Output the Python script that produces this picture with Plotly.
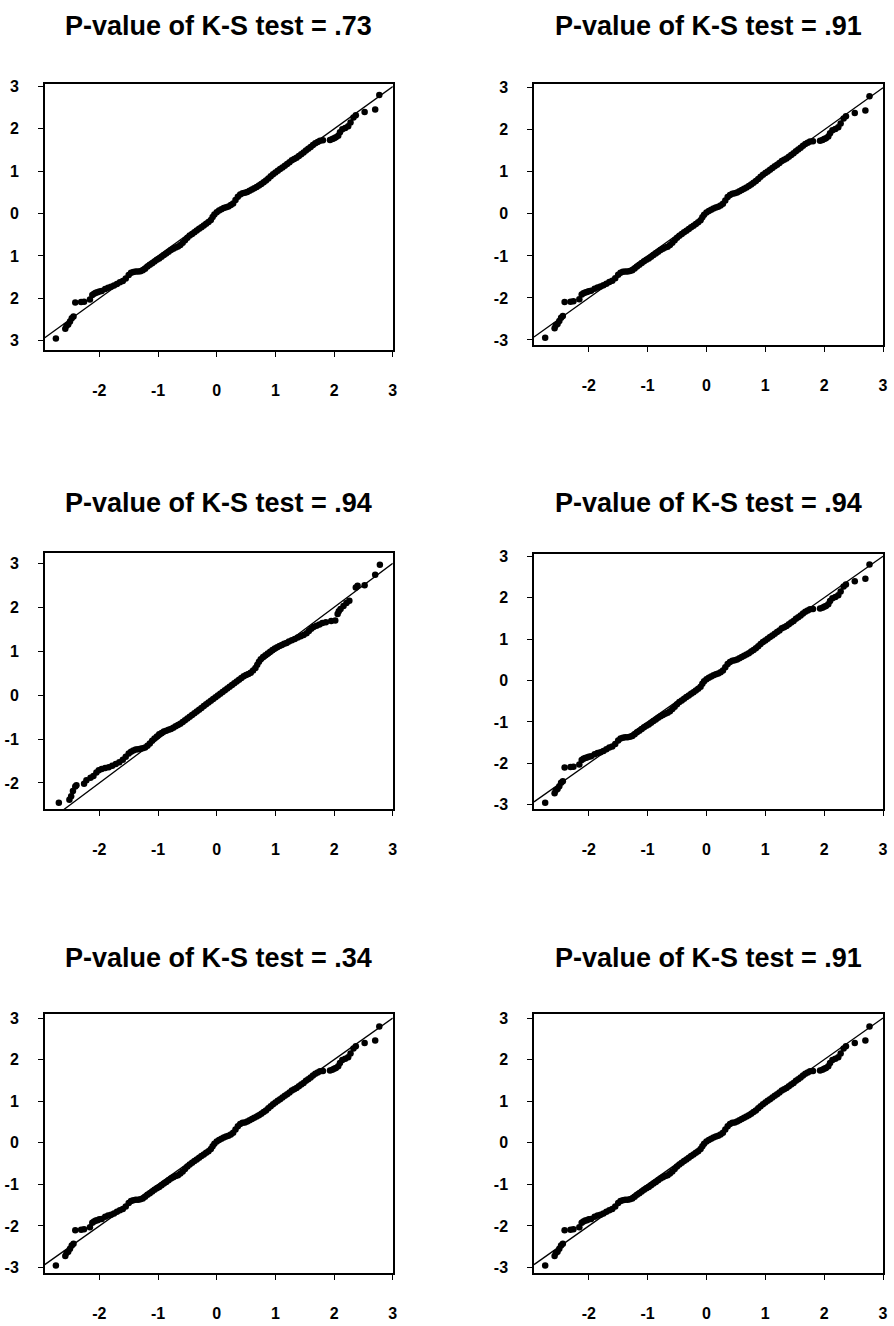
import plotly.graph_objects as go

# ---------------- data ----------------
titles = [
    "P-value of K-S test = .73",
    "P-value of K-S test = .91",
    "P-value of K-S test = .94",
    "P-value of K-S test = .94",
    "P-value of K-S test = .34",
    "P-value of K-S test = .91",
]

# dataset A : theoretical quantiles vs sample quantiles (panels 1,2,4,5,6)
a_x = [-2.74, -2.58, -2.56, -2.53, -2.50, -2.47, -2.44, -2.41, -2.31, -2.26,
       -2.16, -2.12, -2.09, -2.06, -2.03, -2.00, -1.96, -1.90, -1.85, -1.80,
       -1.75, -1.70, -1.65, -1.60, -1.55, -1.50, -1.46, -1.42, -1.38, -1.34,
       -1.30, -1.26, -1.22, -1.18, -1.14, -1.10, -1.06, -1.02, -0.98, -0.94,
       -0.90, -0.86, -0.82, -0.78, -0.74, -0.70, -0.66, -0.62, -0.58, -0.54,
       -0.50, -0.46, -0.42, -0.38, -0.34, -0.30, -0.26, -0.22, -0.18, -0.14,
       -0.10, -0.07, -0.04, 0.00, 0.04, 0.08, 0.12, 0.16, 0.20, 0.24,
       0.28, 0.32, 0.36, 0.40, 0.44, 0.48, 0.52, 0.56, 0.60, 0.64,
       0.68, 0.72, 0.76, 0.80, 0.84, 0.88, 0.92, 0.96, 1.00, 1.04,
       1.08, 1.12, 1.16, 1.20, 1.24, 1.28, 1.32, 1.36, 1.40, 1.44,
       1.48, 1.52, 1.56, 1.60, 1.64, 1.68, 1.72, 1.76, 1.81, 1.93,
       1.97, 2.00, 2.03, 2.07, 2.10, 2.14, 2.19, 2.24, 2.28, 2.33,
       2.37, 2.52, 2.70, 2.77]
a_y = [-2.95, -2.72, -2.65, -2.62, -2.55, -2.47, -2.43, -2.10, -2.09, -2.08,
       -2.03, -1.92, -1.89, -1.87, -1.86, -1.84, -1.83, -1.78, -1.75, -1.73,
       -1.70, -1.66, -1.62, -1.59, -1.53, -1.45, -1.40, -1.38, -1.37, -1.37,
       -1.36, -1.34, -1.30, -1.25, -1.21, -1.17, -1.13, -1.09, -1.06, -1.02,
       -0.98, -0.94, -0.90, -0.86, -0.83, -0.80, -0.78, -0.74, -0.69, -0.63,
       -0.57, -0.52, -0.48, -0.44, -0.40, -0.36, -0.32, -0.28, -0.24, -0.20,
       -0.15, -0.08, -0.02, 0.03, 0.07, 0.10, 0.13, 0.15, 0.17, 0.20,
       0.24, 0.32, 0.40, 0.45, 0.48, 0.49, 0.51, 0.54, 0.57, 0.60,
       0.63, 0.66, 0.70, 0.74, 0.78, 0.83, 0.88, 0.93, 0.97, 1.01,
       1.05, 1.09, 1.13, 1.17, 1.21, 1.26, 1.29, 1.32, 1.36, 1.40,
       1.44, 1.49, 1.53, 1.57, 1.62, 1.66, 1.69, 1.72, 1.73, 1.74,
       1.76, 1.78, 1.80, 1.84, 1.92, 1.99, 2.02, 2.06, 2.15, 2.27,
       2.32, 2.40, 2.46, 2.80]

# dataset B : middle-left panel
b_x = [-2.69, -2.51, -2.48, -2.45, -2.41, -2.39, -2.26, -2.22, -2.15, -2.10,
       -2.05, -2.01, -1.96, -1.90, -1.84, -1.78, -1.72, -1.66, -1.60, -1.55,
       -1.50, -1.46, -1.42, -1.38, -1.34, -1.30, -1.26, -1.22, -1.18, -1.14,
       -1.10, -1.06, -1.02, -0.98, -0.94, -0.90, -0.86, -0.82, -0.78, -0.74,
       -0.70, -0.66, -0.62, -0.58, -0.54, -0.50, -0.46, -0.42, -0.38, -0.34,
       -0.30, -0.26, -0.22, -0.18, -0.14, -0.10, -0.06, -0.02, 0.02, 0.06,
       0.10, 0.14, 0.18, 0.22, 0.26, 0.30, 0.34, 0.38, 0.42, 0.46,
       0.50, 0.54, 0.58, 0.62, 0.66, 0.69, 0.72, 0.75, 0.79, 0.83,
       0.87, 0.91, 0.95, 0.99, 1.03, 1.07, 1.11, 1.15, 1.19, 1.23,
       1.28, 1.33, 1.38, 1.43, 1.48, 1.53, 1.57, 1.61, 1.65, 1.70,
       1.75, 1.80, 1.86, 1.95, 2.02, 2.06, 2.08, 2.11, 2.16, 2.21,
       2.26, 2.37, 2.40, 2.52, 2.70, 2.78]
b_y = [-2.45, -2.38, -2.30, -2.18, -2.08, -2.05, -2.02, -1.94, -1.88, -1.84,
       -1.76, -1.71, -1.68, -1.66, -1.64, -1.61, -1.57, -1.53, -1.47, -1.40,
       -1.33, -1.29, -1.26, -1.24, -1.23, -1.22, -1.21, -1.19, -1.15, -1.10,
       -1.04, -0.99, -0.94, -0.89, -0.86, -0.83, -0.81, -0.79, -0.77, -0.74,
       -0.71, -0.68, -0.65, -0.61, -0.57, -0.53, -0.49, -0.45, -0.41, -0.37,
       -0.33, -0.29, -0.25, -0.21, -0.17, -0.13, -0.09, -0.05, -0.01, 0.03,
       0.07, 0.11, 0.15, 0.19, 0.23, 0.27, 0.31, 0.35, 0.39, 0.43,
       0.46, 0.48, 0.51, 0.56, 0.62, 0.69, 0.76, 0.82, 0.87, 0.91,
       0.95, 0.99, 1.03, 1.06, 1.09, 1.12, 1.14, 1.17, 1.19, 1.22,
       1.25, 1.28, 1.31, 1.34, 1.37, 1.41, 1.46, 1.51, 1.55, 1.58,
       1.61, 1.64, 1.66, 1.69, 1.70, 1.85, 1.91, 1.96, 2.03, 2.10,
       2.15, 2.45, 2.49, 2.50, 2.74, 2.97]

panel_data = ["A", "A", "B", "A", "A", "A"]

ref_line = [-2.93, 3.0]          # 45-degree reference line end points
x_range = [-2.93, 3.0]
x_ticks = [-2, -1, 0, 1, 2, 3]

y_ranges = [[-3.23, 3.05], [-3.13, 3.08], [-2.59, 3.24],
            [-3.10, 3.06], [-3.14, 3.09], [-3.14, 3.09]]
y_ticks = [[-3, -2, -1, 0, 1, 2, 3], [-3, -2, -1, 0, 1, 2, 3],
           [-2, -1, 0, 1, 2, 3], [-3, -2, -1, 0, 1, 2, 3],
           [-3, -2, -1, 0, 1, 2, 3], [-3, -2, -1, 0, 1, 2, 3]]
y_ticktext = [["3", "2", "1", "0", "1", "2", "3"],
              ["-3", "-2", "-1", "0", "1", "2", "3"],
              ["-2", "-1", "0", "1", "2", "3"],
              ["-3", "-2", "-1", "0", "1", "2", "3"],
              ["-3", "-2", "-1", "0", "1", "2", "3"],
              ["-3", "-2", "-1", "0", "1", "2", "3"]]

# ---------------- layout geometry (pixels) ----------------
W, H = 894, 1326
col_px = [(45, 395), (537, 888)]
box_px = [(79, 347), (79, 342), (551, 809), (552, 809), (1016, 1277), (1016, 1277)]
title_px = [20, 20, 501, 501, 959, 959]

FONT = "Arial, 'Liberation Sans', Helvetica, sans-serif"

fig = go.Figure()
datasets = {"A": (a_x, a_y), "B": (b_x, b_y)}

layout = dict(
    width=W, height=H,
    margin=dict(l=0, r=0, t=0, b=0),
    paper_bgcolor="white", plot_bgcolor="white",
    showlegend=False,
    font=dict(family=FONT, color="black"),
    annotations=[],
)

for i in range(6):
    n = i + 1
    xs = "" if n == 1 else str(n)
    col = i % 2
    x0, x1 = col_px[col]
    top, bot = box_px[i]
    px, py = datasets[panel_data[i]]

    fig.add_trace(go.Scatter(
        x=ref_line, y=ref_line, mode="lines",
        line=dict(color="black", width=1.3),
        xaxis="x" + xs, yaxis="y" + xs, hoverinfo="skip"))
    fig.add_trace(go.Scatter(
        x=px, y=py, mode="markers",
        marker=dict(color="black", size=6.5, line=dict(width=0)),
        xaxis="x" + xs, yaxis="y" + xs, cliponaxis=False))

    layout["xaxis" + xs] = dict(
        domain=[x0 / W, x1 / W], range=x_range, anchor="y" + xs,
        tickvals=x_ticks, ticktext=[str(t) for t in x_ticks],
        ticks="outside", ticklen=5, tickwidth=1.3, tickcolor="black",
        showline=True, linecolor="black", linewidth=1.5, mirror=True,
        showgrid=False, zeroline=False, ticklabelstandoff=20,
        ticklabeloverflow="allow",
        tickfont=dict(family=FONT, size=16, color="black", weight="bold"),
        fixedrange=True)
    layout["yaxis" + xs] = dict(
        domain=[1 - bot / H, 1 - top / H], range=y_ranges[i], anchor="x" + xs,
        tickvals=y_ticks[i], ticktext=y_ticktext[i],
        ticks="outside", ticklen=5, tickwidth=1.3, tickcolor="black",
        showline=True, linecolor="black", linewidth=1.5, mirror=True,
        showgrid=False, zeroline=False, ticklabelstandoff=16,
        ticklabeloverflow="allow",
        tickfont=dict(family=FONT, size=16, color="black", weight="bold"),
        fixedrange=True)
    layout["annotations"].append(dict(
        text=titles[i], xref="paper", yref="paper",
        x=(x0 + x1) / 2 / W, y=1 - title_px[i] / H,
        xanchor="center", yanchor="middle", showarrow=False,
        font=dict(family=FONT, size=27, color="black", weight="bold")))

fig.update_layout(**layout)
fig.write_html(
    "out.html",
    config={"displayModeBar": False},
    post_script="document.body.style.margin='0';document.body.style.padding='0';"
                "document.documentElement.style.margin='0';",
)
